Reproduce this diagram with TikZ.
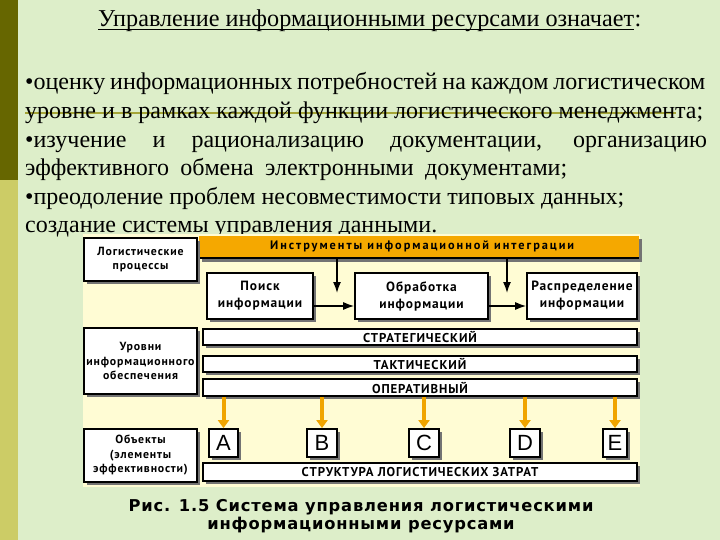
\documentclass[tikz,border=0pt]{standalone}
\usepackage{fontspec}
\setmainfont{Liberation Serif}
\newfontfamily\dfont{PT Sans}[LetterSpace=7]
\newfontfamily\barfont{PT Sans}[LetterSpace=16]
\newfontfamily\capfont{DejaVu Sans}[LetterSpace=5]
\newfontfamily\letfont{Liberation Sans}
\usetikzlibrary{arrows.meta,shadows}
\definecolor{bg}{RGB}{221,238,201}
\definecolor{stripdark}{RGB}{102,102,0}
\definecolor{striplight}{RGB}{204,204,102}
\definecolor{oliveline}{RGB}{165,165,55}
\definecolor{pale}{RGB}{255,252,212}
\definecolor{orangebar}{RGB}{245,168,0}
\definecolor{orangearr}{RGB}{240,165,0}
\tikzset{
  bodyline/.style={anchor=base west, inner sep=0pt, font=\fontsize{24}{28.6}\selectfont},
  sbox/.style={draw=black, line width=1.6pt, fill=white, inner sep=0pt, align=center,
    drop shadow={shadow xshift=3pt, shadow yshift=-3pt, fill=black!55, opacity=1}},
  leftbox/.style={sbox, minimum width=113pt, font=\dfont\bfseries\fontsize{11.8}{14.5}\selectfont},
  procbox/.style={sbox, minimum height=46pt, font=\dfont\bfseries\fontsize{13.4}{17}\selectfont},
  levelbar/.style={sbox, minimum width=434pt, font=\dfont\bfseries\fontsize{12.8}{13}\selectfont},
  letbox/.style={sbox, line width=1.8pt, minimum height=28pt, font=\letfont\fontsize{22}{24}\selectfont},
  blackarr/.style={line width=1.5pt, -{Latex[length=11pt,width=8pt]}},
  orangearrow/.style={draw=orangearr, line width=4pt, -{Triangle[length=8pt,width=11pt]}},
}
\begin{document}
\begin{tikzpicture}[x=1pt,y=-1pt]
\useasboundingbox (0,0) rectangle (720,540);
\fill[bg] (0,0) rectangle (720,540);
\fill[stripdark] (0,0) rectangle (18,180);
\fill[striplight] (0,180) rectangle (18,540);
\draw[oliveline, line width=1.8pt] (25,113) -- (676,113);

% title
\node[anchor=base west, inner sep=0pt, font=\fontsize{24.2}{28}\selectfont] (t1) at (98,27)
  {Управление информационными ресурсами означает};
\node[anchor=base west, inner sep=0pt, font=\fontsize{24.2}{28}\selectfont] (t2) at (t1.base east) {:};
\draw[line width=1pt] ([yshift=-2.6pt]t1.base west) -- ([yshift=-2.6pt]t1.base east);

% body
\node[bodyline] (l1) at (25,90) {\makebox[680pt][s]{•оценку информационных потребностей на каждом логистическом}};
\node[bodyline] (l2) at (25,118.6) {\makebox[678pt][s]{уровне и в рамках каждой функции логистического менеджмента;}};
\node[bodyline] (l3) at (25,147.2) {\makebox[682pt][s]{•изучение и рационализацию документации, организацию}};
\node[bodyline] (l4) at (25,175.8) {\makebox[542pt][s]{эффективного обмена электронными документами;}};
\node[bodyline] (l5) at (25,204.4) {•преодоление проблем несовместимости типовых данных;};
\node[bodyline] (l6) at (25,233) {создание системы управления данными.};

% diagram backdrop
\fill[pale] (83,234) rectangle (640,487);

% orange bar
\fill[black!55] (202,239) rectangle (642,262);
\fill[orangebar] (199,236) rectangle (639,258);
\draw[line width=1.5pt] (199,258) -- (639,258);
\node[anchor=west, inner sep=0pt, font=\barfont\bfseries\fontsize{12.3}{13}\selectfont] (bar) at (270,246.5)
  {Инструменты информационной интеграции};
\coordinate (barL) at (337,258.8);
\coordinate (barR) at (507,258.8);

% left column
\node[leftbox, minimum height=43pt] (lp) at (140.5,259.5) {Логистические\\процессы};
\node[leftbox, minimum height=66pt] (ur) at (140.5,361) {Уровни\\информационного\\обеспечения};
\node[leftbox, minimum height=53pt] (ob) at (140.5,455.5) {Объекты\\(элементы\\эффективности)};

% process boxes
\node[procbox, minimum width=106pt] (p1) at (260,296) {Поиск\\информации};
\node[procbox, minimum width=133pt] (p2) at (421.5,296) {Обработка\\информации};
\node[procbox, minimum width=110pt] (p3) at (582,296) {Распределение\\информации};
\draw[blackarr] ([yshift=-10pt]p1.east) -- ([yshift=-10pt]p2.west);
\draw[blackarr] ([yshift=-10pt]p2.east) -- ([yshift=-10pt]p3.west);
\coordinate (vL) at (337,293);
\coordinate (vR) at (507,293);
\draw[blackarr] (barL) -- (vL);
\draw[blackarr] (barR) -- (vR);

% level bars
\node[levelbar, minimum height=16pt] (s1) at (420,337) {СТРАТЕГИЧЕСКИЙ};
\node[levelbar, minimum height=16pt] (s2) at (420,364) {ТАКТИЧЕСКИЙ};
\node[levelbar, minimum height=17pt] (s3) at (420,387.5) {ОПЕРАТИВНЫЙ};
\node[levelbar, minimum height=18pt] (st) at (420,472) {СТРУКТУРА ЛОГИСТИЧЕСКИХ ЗАТРАТ};

% letter boxes
\node[letbox, minimum width=29pt] (A) at (223.5,443) {A};
\node[letbox, minimum width=30pt] (B) at (322,443) {B};
\node[letbox, minimum width=30pt] (C) at (424,443) {C};
\node[letbox, minimum width=30pt] (D) at (525,443) {D};
\node[letbox, minimum width=24pt] (E) at (615,443) {E};
\foreach \n in {A,B,C,D,E}{
  \draw[orangearrow] (\n.north |- s3.south) -- (\n.north);
}

% caption
\node[anchor=base, inner sep=0pt, font=\capfont\bfseries\fontsize{16.3}{18}\selectfont] (c1) at (361,511)
  {Рис. 1.5 Система управления логистическими};
\node[anchor=base, inner sep=0pt, font=\capfont\bfseries\fontsize{16.3}{18}\selectfont] (c2) at (361,529)
  {информационными ресурсами};
\end{tikzpicture}
\end{document}
